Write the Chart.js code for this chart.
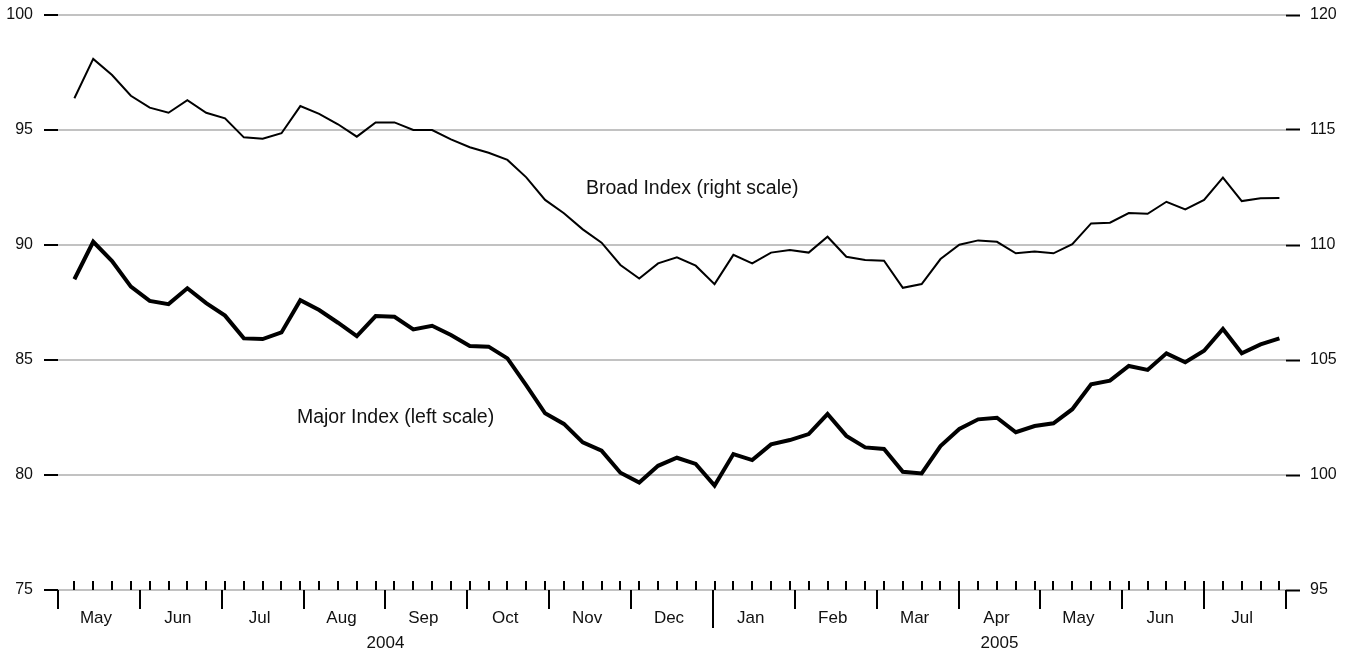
<!DOCTYPE html>
<html lang="en">
<head>
  <meta charset="UTF-8" />
  <title>Major and Broad Index</title>
  <script src="https://cdn.jsdelivr.net/npm/chart.js"></script>
  <style>
    html, body { margin: 0; padding: 0; background: #fff; }
    #wrap { width: 1358px; height: 656px; }
  </style>
</head>
<body>
  <div id="wrap"><canvas id="chart"></canvas></div>

  <script>
    // weekly observations, May 2004 - Jul 2005
    const majorIndex = [
      88.51, 90.14, 89.30, 88.19, 87.57, 87.43, 88.12, 87.47, 86.93, 85.94,
      85.91, 86.20, 87.60, 87.17, 86.62, 86.04, 86.91, 86.88, 86.33, 86.49,
      86.09, 85.61, 85.58, 85.07, 83.90, 82.68, 82.22, 81.42, 81.06, 80.10,
      79.67, 80.40, 80.75, 80.48, 79.54, 80.91, 80.65, 81.33, 81.52, 81.78,
      82.65, 81.70, 81.20, 81.13, 80.14, 80.07, 81.26, 82.00, 82.42, 82.49,
      81.86, 82.13, 82.25, 82.86, 83.94, 84.10, 84.74, 84.57, 85.29, 84.90,
      85.40, 86.35, 85.29, 85.68, 85.94
    ]
    const broadIndex = [
      116.38, 118.09, 117.39, 116.49, 115.97, 115.75, 116.30, 115.75, 115.51, 114.68,
      114.62, 114.86, 116.04, 115.70, 115.25, 114.71, 115.33, 115.33, 115.00, 115.00,
      114.59, 114.25, 114.01, 113.70, 112.94, 111.96, 111.38, 110.68, 110.10, 109.13,
      108.54, 109.20, 109.46, 109.10, 108.30, 109.57, 109.20, 109.67, 109.78, 109.67,
      110.36, 109.49, 109.35, 109.32, 108.14, 108.30, 109.39, 110.01, 110.20, 110.14,
      109.64, 109.72, 109.64, 110.04, 110.94, 110.97, 111.39, 111.36, 111.88, 111.55,
      111.96, 112.93, 111.91, 112.03, 112.04
    ]

    const months = ['May', 'Jun', 'Jul', 'Aug', 'Sep', 'Oct', 'Nov', 'Dec',
                    'Jan', 'Feb', 'Mar', 'Apr', 'May', 'Jun', 'Jul']
    // month boundaries, in weeks
    const monthEdges = [-0.87, 3.48, 7.83, 12.17, 16.52, 20.87, 25.22, 29.57,
                        33.91, 38.26, 42.61, 46.96, 51.31, 55.65, 60.00, 64.35]
    const years = ['2004', '2005']
    const yearStarts = [0, 8, 15]   // index into monthEdges

    const leftTicks = [75, 80, 85, 90, 95, 100]
    const rightTicks = [95, 100, 105, 110, 115, 120]

    const FONT = "'Liberation Sans', Arial, Helvetica, sans-serif"

    const axisMarks = {
      id: 'axisMarks',
      afterDraw(chart) {
        const { ctx, chartArea, scales } = chart
        const x = scales.x
        const base = chartArea.bottom
        ctx.save()
        ctx.strokeStyle = '#000'
        ctx.lineWidth = 2
        ctx.beginPath()
        majorIndex.forEach((_, i) => {
          const px = Math.round(x.getPixelForValue(i))
          ctx.moveTo(px, base - 9)
          ctx.lineTo(px, base)
        })
        monthEdges.forEach((m, k) => {
          const px = Math.round(x.getPixelForValue(m))
          const len = yearStarts.slice(1, -1).includes(k) ? 38 : 19
          ctx.moveTo(px, base)
          ctx.lineTo(px, base + len)
        })
        ctx.stroke()

        ctx.fillStyle = '#111'
        ctx.textAlign = 'center'
        ctx.textBaseline = 'alphabetic'
        ctx.font = `17px ${FONT}`
        months.forEach((m, k) => {
          const mid = (x.getPixelForValue(monthEdges[k]) + x.getPixelForValue(monthEdges[k + 1])) / 2
          ctx.fillText(m, mid - 3, base + 33)
        })
        years.forEach((y, k) => {
          const a = x.getPixelForValue(monthEdges[yearStarts[k]])
          const b = x.getPixelForValue(monthEdges[yearStarts[k + 1]])
          ctx.fillText(y, (a + b) / 2, base + 58)
        })

        // series labels
        ctx.textAlign = 'left'
        ctx.font = `19.5px ${FONT}`
        ctx.fillText('Broad Index (right scale)', x.getPixelForValue(27.17), scales.y2.getPixelForValue(112.22))
        ctx.fillText('Major Index (left scale)', x.getPixelForValue(11.82), scales.y.getPixelForValue(82.26))
        ctx.restore()
      }
    }

    const toPoints = arr => arr.map((v, i) => ({ x: i, y: v }))

    const fitWidth = w => s => {
      s.width = w
      s.paddingTop = 0
      s.paddingBottom = 0
    }

    new Chart(document.getElementById('chart'), {
      type: 'line',
      data: {
        datasets: [
          {
            label: 'Broad Index (right scale)',
            data: toPoints(broadIndex),
            yAxisID: 'y2',
            borderColor: '#000',
            borderWidth: 2,
            borderJoinStyle: 'miter',
            pointRadius: 0,
            tension: 0
          },
          {
            label: 'Major Index (left scale)',
            data: toPoints(majorIndex),
            yAxisID: 'y',
            borderColor: '#000',
            borderWidth: 4,
            borderJoinStyle: 'miter',
            pointRadius: 0,
            tension: 0
          }
        ]
      },
      options: {
        responsive: true,
        maintainAspectRatio: false,
        animation: false,
        devicePixelRatio: 1,
        layout: { padding: { top: 15, bottom: 66, left: 0, right: 0 } },
        plugins: { legend: { display: false }, tooltip: { enabled: false } },
        scales: {
          x: {
            type: 'linear',
            min: monthEdges[0],
            max: monthEdges[monthEdges.length - 1],
            display: false
          },
          y: {
            position: 'left',
            min: leftTicks[0],
            max: leftTicks[leftTicks.length - 1],
            afterBuildTicks: s => { s.ticks = leftTicks.map(v => ({ value: v })) },
            afterFit: fitWidth(58),
            border: { display: false },
            grid: {
              color: '#c2c2c2',
              lineWidth: 2,
              drawTicks: true,
              tickLength: 14,
              tickColor: '#000',
              tickWidth: 2
            },
            ticks: { color: '#111', padding: 11, font: { family: FONT, size: 16 } }
          },
          y2: {
            position: 'right',
            min: rightTicks[0],
            max: rightTicks[rightTicks.length - 1],
            afterBuildTicks: s => { s.ticks = rightTicks.map(v => ({ value: v })) },
            afterFit: fitWidth(72),
            border: { display: false },
            grid: {
              drawOnChartArea: false,
              drawTicks: true,
              tickLength: 14,
              tickColor: '#000',
              tickWidth: 2
            },
            ticks: { color: '#111', padding: 10, font: { family: FONT, size: 16 } }
          }
        }
      },
      plugins: [axisMarks]
    })
  </script>
</body>
</html>
